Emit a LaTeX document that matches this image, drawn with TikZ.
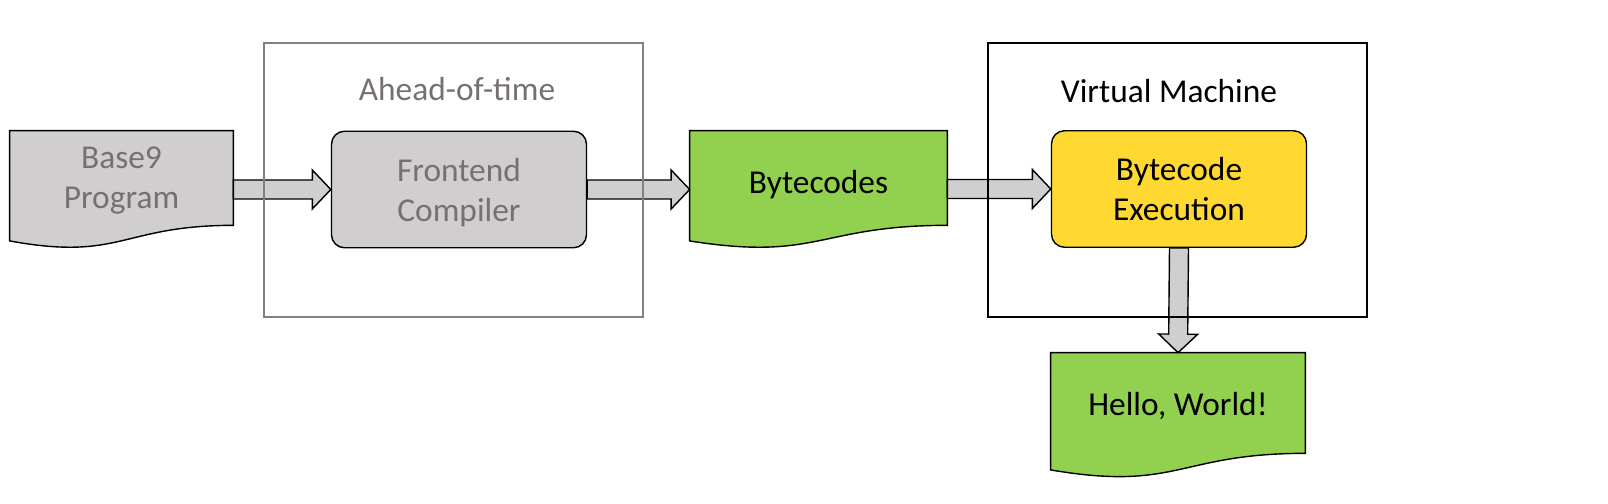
\documentclass[tikz,border=0pt]{standalone}
\usepackage{fontspec}
\setmainfont{Carlito}
\usepackage{tikz}
\usetikzlibrary{calc, backgrounds}
\definecolor{boxgray}{HTML}{D0CECE}
\definecolor{textgray}{HTML}{767171}
\definecolor{framegray}{HTML}{808080}
\definecolor{codegreen}{HTML}{92D050}
\definecolor{execyellow}{HTML}{FFD932}

% invisible strut that pushes a node's text down
\newcommand{\topgap}[1]{\rule{0pt}{#1}}

% document shape with wavy bottom, drawn behind node #1
\newcommand{\docshape}[2]{%
  \begin{scope}[on background layer]
    \draw[fill=#2, line width=0.8pt] let \p1=(#1.north west), \p2=(#1.south east) in
      (\p1) -- (\x2,\y1) -- (\p2)
      .. controls ({(\x1+\x2)/2},\y2) and ({(\x1+\x2)/2},{\y2-0.381*(\y1-\y2)}) ..
      (\x1,{\y2-0.1645*(\y1-\y2)}) -- cycle;
  \end{scope}
}

% block arrow from #1 to #2
\newcommand{\blockarrow}[2]{%
  \coordinate (ba-s) at (#1);
  \coordinate (ba-e) at (#2);
  \coordinate (ba-h) at ($(ba-e)!0.37cm!(ba-s)$);
  \draw[fatarrow] ($(ba-s)!0.19cm!90:(ba-e)$) -- ($(ba-h)!0.19cm!-90:(ba-s)$)
    -- ($(ba-h)!0.39cm!-90:(ba-s)$) -- (ba-e) -- ($(ba-h)!0.39cm!90:(ba-s)$)
    -- ($(ba-h)!0.19cm!90:(ba-s)$) -- ($(ba-s)!0.19cm!-90:(ba-e)$) -- cycle;
}

\begin{document}
\begin{tikzpicture}[
    doc/.style={inner sep=0pt, align=center, font=\fontsize{19}{22.8}\selectfont},
    stage/.style={draw, line width=0.8pt, rounded corners=0.26cm, inner sep=0pt, align=center, minimum width=5.1cm, minimum height=2.33cm, font=\fontsize{19}{22.8}\selectfont},
    group/.style={draw, line width=0.8pt, minimum width=7.58cm, minimum height=5.48cm},
    grouptitle/.style={anchor=base, font=\fontsize{19}{22.8}\selectfont},
    fatarrow/.style={draw, fill=boxgray, line width=0.8pt, line join=miter}
]
    \useasboundingbox (0,0) rectangle (32.16,10.08);

    % Source and bytecode documents
    \node[doc, text=textgray, minimum width=4.46cm, minimum height=1.88cm] (base9) at (2.43, 6.52) {\topgap{15.7pt}Base9\\Program};
    \docshape{base9}{boxgray}
    \node[doc, minimum width=5.14cm, minimum height=1.88cm] (bytecodes) at (16.37, 6.52) {\topgap{20.2pt}Bytecodes};
    \docshape{bytecodes}{codegreen}

    % Compiler and interpreter
    \node[stage, fill=boxgray, text=textgray] (frontend) at (9.18, 6.29) {\topgap{16.8pt}Frontend\\Compiler};
    \node[stage, fill=execyellow] (exec) at (23.58, 6.30) {Bytecode\\Execution};

    % Output
    \node[doc, minimum width=5.08cm, minimum height=2.0cm] (hello) at (23.56, 2.02) {\topgap{16.8pt}Hello, World!};
    \docshape{hello}{codegreen}

    % Connections
    \blockarrow{base9.east |- frontend.west}{frontend.west}
    \blockarrow{frontend.east}{bytecodes.west |- frontend.east}
    \blockarrow{bytecodes.east |- exec.west}{exec.west}
    \blockarrow{exec.south}{hello.north}

    % Groups
    \node[group, draw=framegray, line width=0.6pt] (aot) at (9.07, 6.48) {};
    \node[grouptitle, text=textgray] (aottitle) at (9.14, 8.06) {Ahead-of-time};
    \node[group] (vm) at (23.55, 6.48) {};
    \node[grouptitle] (vmtitle) at (23.38, 8.02) {Virtual Machine};

\end{tikzpicture}
\end{document}
